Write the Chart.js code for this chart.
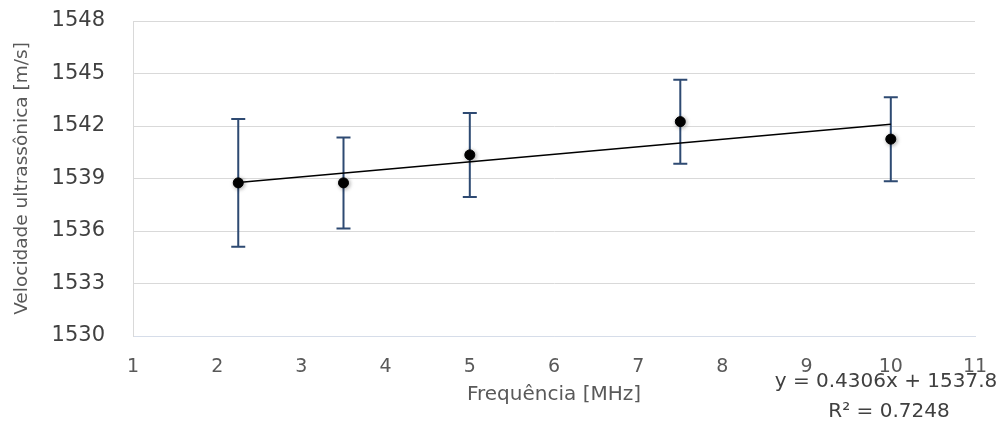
<!DOCTYPE html>
<html>
<head>
<meta charset="utf-8">
<script src="https://cdn.jsdelivr.net/npm/chart.js@4"></script>
<style>
  html, body { margin: 0; padding: 0; background: #fff; }
  #wrap { width: 1008px; height: 422px; }
</style>
</head>
<body>
<div id="wrap"><canvas id="lineChart" width="1008" height="422"></canvas></div>
<script>
// values
var frequencies = [2.25, 3.5, 5, 7.5, 10];
var velocities = [1538.75, 1538.75, 1540.35, 1542.25, 1541.25];
var errors = [3.65, 2.6, 2.4, 2.4, 2.4];

// trendline as printed on the chart
var slope = 0.4306;
var intercept = 1537.8;
var eqLabel = 'y = 0.4306x + 1537.8';
var r2Label = 'R² = 0.7248';

var yTicks = [1530, 1533, 1536, 1539, 1542, 1545, 1548];
var xTicks = [1, 2, 3, 4, 5, 6, 7, 8, 9, 10, 11];

var textColor = '#595959';
var darkText = '#404040';
var font = '"DejaVu Sans", sans-serif';

var points = frequencies.map(function (f, i) { return { x: f, y: velocities[i] }; });
var xFirst = frequencies[0];
var xLast = frequencies[frequencies.length - 1];
var trend = [
    { x: xFirst, y: slope * xFirst + intercept },
    { x: xLast, y: slope * xLast + intercept }
];

var errorBars = {
    id: 'errorBars',
    beforeDatasetsDraw: function (chart) {
        var ctx = chart.ctx;
        var xs = chart.scales.x, ys = chart.scales.y;
        ctx.save();
        ctx.strokeStyle = '#2e4a72';
        ctx.lineWidth = 2;
        for (var i = 0; i < frequencies.length; i++) {
            var px = xs.getPixelForValue(frequencies[i]);
            var top = ys.getPixelForValue(velocities[i] + errors[i]);
            var bot = ys.getPixelForValue(velocities[i] - errors[i]);
            ctx.beginPath();
            ctx.moveTo(px, top); ctx.lineTo(px, bot);
            ctx.moveTo(px - 7, top); ctx.lineTo(px + 7, top);
            ctx.moveTo(px - 7, bot); ctx.lineTo(px + 7, bot);
            ctx.stroke();
        }
        ctx.restore();
    },
    // soft shadow under the markers, like the original
    beforeDatasetDraw: function (chart, args) {
        if (args.index !== 0) return;
        var ctx = chart.ctx;
        ctx.save();
        ctx.shadowColor = 'rgba(0,0,0,0.35)';
        ctx.shadowBlur = 4;
        ctx.shadowOffsetX = 1;
        ctx.shadowOffsetY = 1;
    },
    afterDatasetDraw: function (chart, args) {
        if (args.index !== 0) return;
        chart.ctx.restore();
    },
    afterDraw: function (chart) {
        var ctx = chart.ctx;
        var a = chart.chartArea;
        ctx.save();
        ctx.fillStyle = darkText;
        ctx.font = '20px ' + font;
        ctx.textAlign = 'center';
        ctx.textBaseline = 'middle';
        ctx.fillText(eqLabel, a.right - 89, a.bottom + 46);
        ctx.fillText(r2Label, a.right - 86, a.bottom + 76);
        ctx.restore();
    }
};

var ctx = document.getElementById('lineChart').getContext('2d');
var myChart = new Chart(ctx, {
    type: 'scatter',
    data: {
        datasets: [{
            label: 'Velocidade',
            data: points,
            backgroundColor: '#000',
            borderColor: '#000',
            pointRadius: 5,
            pointHoverRadius: 5,
            order: 1
        }, {
            label: 'Tendência',
            type: 'line',
            data: trend,
            borderColor: '#000',
            borderWidth: 1.5,
            pointRadius: 0,
            fill: false,
            order: 2
        }]
    },
    options: {
        responsive: false,
        animation: false,
        layout: { padding: { top: 21, right: 33, left: 0, bottom: 0 } },
        plugins: {
            legend: { display: false },
            tooltip: { enabled: false }
        },
        scales: {
            x: {
                type: 'linear',
                min: 1,
                max: 11,
                afterBuildTicks: function (s) { s.ticks = xTicks.map(function (v) { return { value: v }; }); },
                afterFit: function (s) { s.height = 86; },
                grid: { color: 'rgba(0,0,0,0)', drawTicks: false },
                border: { color: '#d6dde9', width: 1 },
                ticks: {
                    color: textColor,
                    padding: 20,
                    maxRotation: 0,
                    font: { family: font, size: 19 }
                },
                title: {
                    display: true,
                    text: 'Frequência [MHz]',
                    color: textColor,
                    padding: { top: 0, bottom: 15 },
                    font: { family: font, size: 20 }
                }
            },
            y: {
                min: 1530,
                max: 1548,
                afterBuildTicks: function (s) { s.ticks = yTicks.map(function (v) { return { value: v }; }); },
                afterFit: function (s) { s.width = 133; s.paddingTop = 0; s.paddingBottom = 0; },
                grid: { color: '#d9d9d9', drawTicks: false },
                border: { color: '#d9d9d9', width: 1 },
                ticks: {
                    color: darkText,
                    padding: 28,
                    font: { family: font, size: 21 },
                    callback: function (v) { return String(v); }
                },
                title: {
                    display: true,
                    text: 'Velocidade ultrassônica [m/s]',
                    color: textColor,
                    padding: { top: 11, bottom: 0 },
                    font: { family: font, size: 18.5 }
                }
            }
        }
    },
    plugins: [errorBars]
});
</script>
</body>
</html>
